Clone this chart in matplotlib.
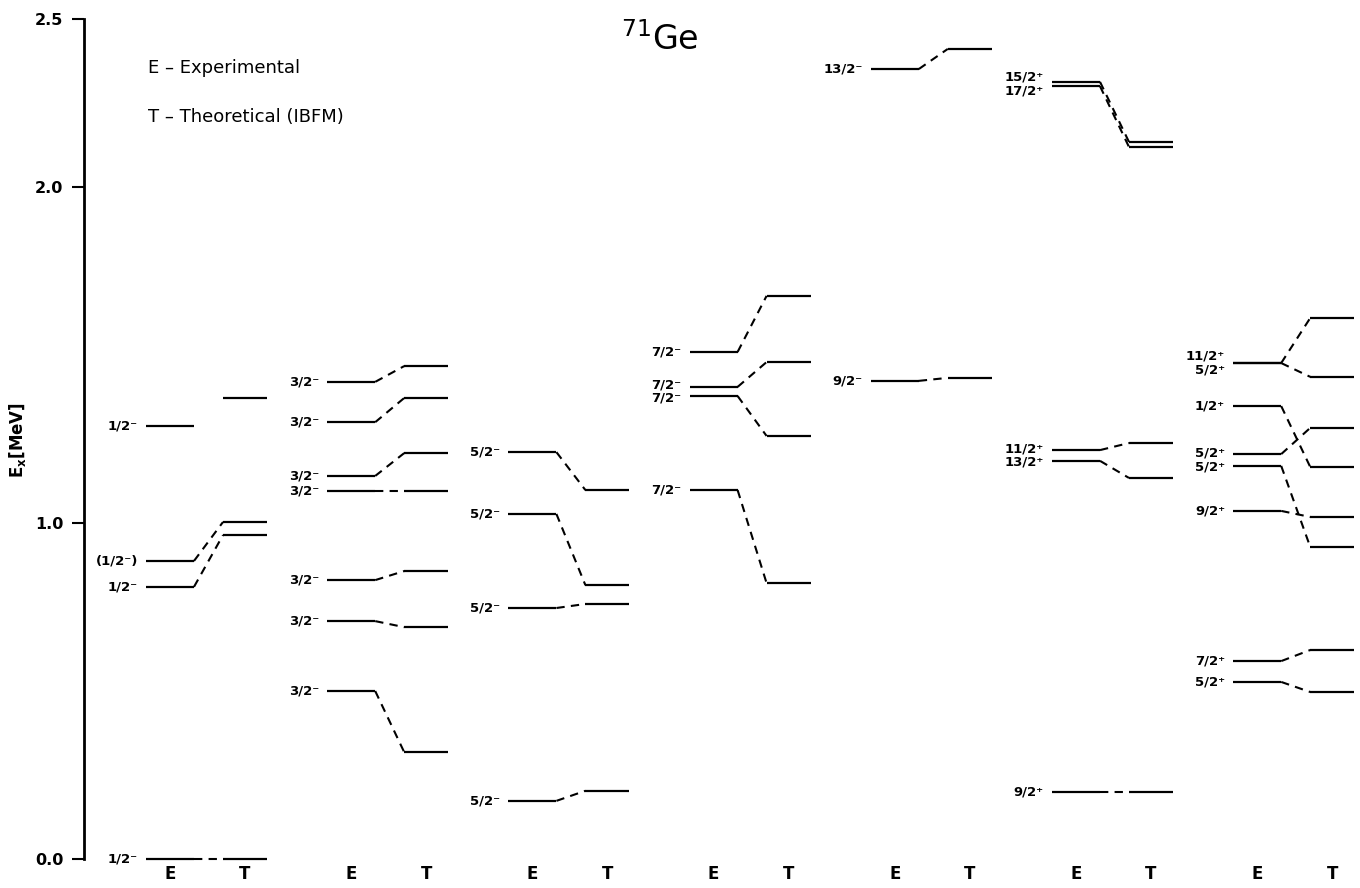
import matplotlib
matplotlib.use("Agg")
import matplotlib.pyplot as plt

# ---------------- data (MeV) ----------------
g1_exp = [0.000, 0.810, 0.887, 1.289]
g1_lab = ["1/2⁻", "1/2⁻", "(1/2⁻)", "1/2⁻"]
g1_th = [0.000, 0.964, 1.003, 1.372]
g1_link = [0, 1, 2, None]

g2_exp = [0.500, 0.708, 0.830, 1.095, 1.140, 1.300, 1.420]
g2_lab = ["3/2⁻", "3/2⁻", "3/2⁻", "3/2⁻", "3/2⁻", "3/2⁻", "3/2⁻"]
g2_th = [0.318, 0.690, 0.857, 1.095, 1.208, 1.372, 1.467]
g2_link = [0, 1, 2, 3, 4, 5, 6]

g3_exp = [0.173, 0.747, 1.027, 1.211]
g3_lab = ["5/2⁻", "5/2⁻", "5/2⁻", "5/2⁻"]
g3_th = [0.203, 0.759, 0.815, 1.098]
g3_link = [0, 1, 2, 3]

g4_exp = [1.098, 1.378, 1.405, 1.509]
g4_lab = ["7/2⁻", "7/2⁻", "7/2⁻", "7/2⁻"]
g4_th = [0.821, 1.259, 1.479, 1.676]
g4_link = [0, 1, 2, 3]

g5_exp = [1.423, 2.351]
g5_lab = ["9/2⁻", "13/2⁻"]
g5_th = [1.432, 2.411]
g5_link = [0, 1]

g6_exp = [0.199, 1.185, 1.217, 2.300, 2.313]
g6_lab = ["9/2⁺", "13/2⁺", "11/2⁺", "17/2⁺", "15/2⁺"]
g6_th = [0.199, 1.134, 1.238, 2.119, 2.134]
g6_link = [0, 1, 2, 3, 4]

g7_exp = [0.527, 0.589, 1.036, 1.170, 1.205, 1.348, 1.476, 1.476]
g7_lab = ["5/2⁺", "7/2⁺", "9/2⁺", "5/2⁺", "5/2⁺", "1/2⁺", "5/2⁺", "11/2⁺"]
g7_th = [0.497, 0.622, 0.929, 1.018, 1.167, 1.283, 1.435, 1.610]
g7_link = [0, 1, 3, 2, 5, 4, 6, 7]

groups = [
    (g1_exp, g1_lab, g1_th, g1_link),
    (g2_exp, g2_lab, g2_th, g2_link),
    (g3_exp, g3_lab, g3_th, g3_link),
    (g4_exp, g4_lab, g4_th, g4_link),
    (g5_exp, g5_lab, g5_th, g5_link),
    (g6_exp, g6_lab, g6_th, g6_link),
    (g7_exp, g7_lab, g7_th, g7_link),
]

ytick_vals = [0.0, 1.0, 2.0, 2.5]
ytick_labels = ["0.0", "1.0", "2.0", "2.5"]
column_letters = ["E", "T"]

# ---------------- layout ----------------
W, H = 1360, 888
SP = 181.2            # px per group
AX_L, AX_TOP, AX_BOT = 84, 19, 859

fig = plt.figure(figsize=(W / 100, H / 100), dpi=100)
ax = fig.add_axes([AX_L / W, (H - AX_BOT) / H, (W - AX_L) / W, (AX_BOT - AX_TOP) / H])
ax.set_xlim(0, (W - AX_L) / SP)
ax.set_ylim(0, 2.5)

E0, E1 = 62 / SP, 110 / SP
T0, T1 = 139 / SP, 183 / SP
LW = 1.6
dash = (0, (4, 3))


def spread(vals, d, iters=200):
    order = sorted(range(len(vals)), key=lambda i: (vals[i], i))
    p = [vals[i] for i in order]
    for _ in range(iters):
        moved = False
        for k in range(1, len(p)):
            gap = p[k] - p[k - 1]
            if gap < d - 1e-9:
                s = (d - gap) / 2
                p[k - 1] -= s
                p[k] += s
                moved = True
        if not moved:
            break
    out = [0] * len(vals)
    for k, i in enumerate(order):
        out[i] = p[k]
    return out


for g, (ex, lab, th, link) in enumerate(groups):
    for e in ex:
        ax.plot([g + E0, g + E1], [e, e], color="black", lw=LW,
                solid_capstyle="butt", clip_on=False)
    for t in th:
        ax.plot([g + T0, g + T1], [t, t], color="black", lw=LW,
                solid_capstyle="butt", clip_on=False)
    for e, k in zip(ex, link):
        if k is None:
            continue
        ax.plot([g + E1, g + T0], [e, th[k]], color="black", lw=1.5,
                linestyle=dash, clip_on=False)
    ly = spread(ex, 0.040)
    for y, s in zip(ly, lab):
        ax.text(g + E0 - 0.045, y, s, ha="right", va="center", fontsize=9.5,
                fontweight="bold", family="DejaVu Sans")
    ax.text(g + (E0 + E1) / 2, -0.045, column_letters[0], ha="center", va="center",
            fontsize=12, fontweight="bold", clip_on=False)
    ax.text(g + (T0 + T1) / 2, -0.045, column_letters[1], ha="center", va="center",
            fontsize=12, fontweight="bold", clip_on=False)

for s in ["top", "right", "bottom"]:
    ax.spines[s].set_visible(False)
ax.spines["left"].set_linewidth(2)
ax.set_xticks([])
ax.set_yticks(ytick_vals)
ax.set_yticklabels(ytick_labels, fontsize=11.5, fontweight="bold")
ax.tick_params(axis="y", direction="out", length=9, width=1.5, pad=6)

fig.text(18 / W, 1 - 440 / H, r"E$_\mathbf{x}$[MeV]", rotation=90, ha="center", va="center",
         fontsize=12, fontweight="bold")
fig.text(660 / W, 1 - 40 / H, r"$^{71}$Ge", ha="center", va="center", fontsize=24)
fig.text(148 / W, 1 - 68 / H, "E – Experimental", ha="left", va="center", fontsize=13)
fig.text(148 / W, 1 - 117 / H, "T – Theoretical (IBFM)", ha="left", va="center", fontsize=13)

fig.savefig("out.png", dpi=100)
